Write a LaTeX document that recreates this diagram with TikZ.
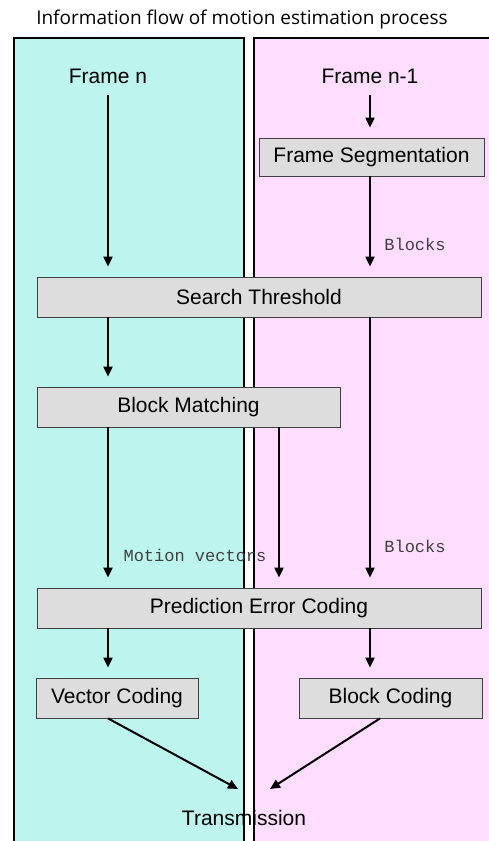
\documentclass[tikz,border=0pt]{standalone}
\usepackage{fontspec}
\setmainfont{Liberation Sans}
\newfontfamily\titlefont{Open Sans}
\newfontfamily\monofont{Liberation Mono}
\usetikzlibrary{arrows.meta}
\definecolor{cyanbg}{RGB}{189,245,238}
\definecolor{pinkbg}{RGB}{255,221,255}
\definecolor{boxgray}{RGB}{221,221,221}
\begin{document}
\begin{tikzpicture}[x=1pt,y=-1pt,
  arr/.style={line width=2pt,-{Triangle[length=10pt,width=9pt]}},
  proc/.style={draw=black!75, line width=0.8pt, fill=boxgray, minimum height=40pt, inner sep=0pt, font=\fontsize{21}{24}\selectfont},
  lbl/.style={inner sep=0pt, text height=15pt, text depth=0pt, font=\fontsize{21}{24}\selectfont},
  mono/.style={inner sep=0pt, font=\monofont\fontsize{17}{20}\selectfont, text=black!75},
  panel/.style={draw=black, line width=1.3pt}]
\useasboundingbox (0,0) rectangle (489,841);
\begin{scope}
\clip (0,0) rectangle (489,841);
\draw[panel, fill=cyanbg] (14,38) rectangle (244,860);
\draw[panel, fill=pinkbg] (254,38) rectangle (500,860);
\end{scope}
\node[inner sep=0pt, font=\titlefont\fontsize{19}{22}\selectfont] (title) at (242,20) {Information flow of motion estimation process};

\node[lbl] (fn) at (108,76) {Frame n};
\node[lbl] (fn1) at (370,76) {Frame n-1};
\node[proc, minimum width=225pt, minimum height=38pt] (FS) at (371.5,157) {Frame Segmentation};
\node[proc, minimum width=444pt] (ST) at (259,297) {Search Threshold};
\node[proc, minimum width=303pt] (BM) at (188.5,407) {Block Matching};
\node[proc, minimum width=444pt] (PEC) at (259,608) {Prediction Error Coding};
\node[proc, minimum width=162pt] (VC) at (117,698) {Vector Coding};
\node[proc, minimum width=183pt] (BC) at (390.5,698) {Block Coding};
\node[lbl] (TR) at (244,818) {Transmission};
\coordinate (mx) at (279,0);
\coordinate (tin1) at (238,789);
\coordinate (tin2) at (270,789);

\node[mono] (lb1) at (415,244) {Blocks};
\node[mono] (lb2) at (415,546) {Blocks};
\node[mono] (lmv) at (195,555) {Motion vectors};

\draw[arr, shorten <=11.5pt, shorten >=10pt] (fn) -- (fn |- ST.north);
\draw[arr, shorten <=11.5pt, shorten >=10pt] (fn1) -- (fn1 |- FS.north);
\draw[arr, shorten >=10pt] (FS.south -| fn1) -- (fn1 |- ST.north);
\draw[arr, shorten >=10pt] (ST.south -| fn) -- (fn |- BM.north);
\draw[arr, shorten >=10pt] (ST.south -| fn1) -- (fn1 |- PEC.north);
\draw[arr, shorten >=10pt] (BM.south -| fn) -- (fn |- PEC.north);
\draw[arr, shorten >=10pt] (BM.south -| mx) -- (mx |- PEC.north);
\draw[arr, shorten >=10pt] (PEC.south -| fn) -- (fn |- VC.north);
\draw[arr, shorten >=10pt] (PEC.south -| fn1) -- (fn1 |- BC.north);
\draw[arr] (VC.south -| fn) -- (tin1);
\draw[arr] ([xshift=-10.5pt]BC.south) -- (tin2);
\end{tikzpicture}
\end{document}
